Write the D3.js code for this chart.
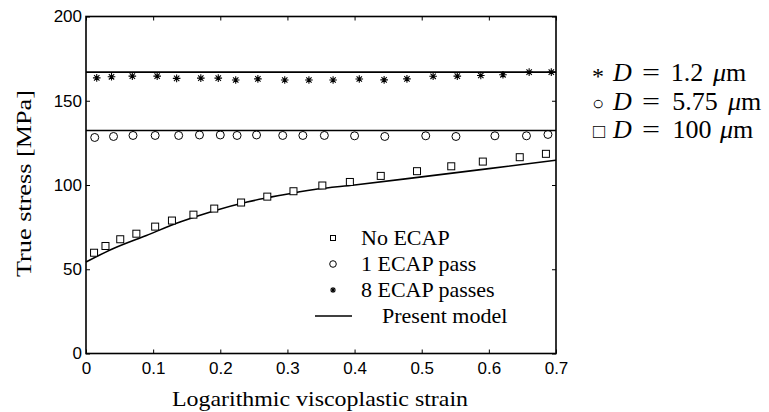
<!DOCTYPE html>
<html>
<head>
<meta charset="utf-8">
<script src="https://cdn.jsdelivr.net/npm/d3@7"></script>
<style>
  html, body { margin: 0; padding: 0; background: #fff; }
  svg { display: block; }
  .serif { font-family: "Liberation Serif", "Times New Roman", serif; }
  .sans { font-family: "Liberation Sans", Arial, sans-serif; }
</style>
</head>
<body>
<div id="chart"></div>
<script>
// 데이터 — 그림에서 읽은 값
var xTicks = [0, 0.1, 0.2, 0.3, 0.4, 0.5, 0.6, 0.7];
var yTicks = [0, 50, 100, 150, 200];

var strainNoEcap = [0.012, 0.029, 0.051, 0.075, 0.103, 0.128, 0.160, 0.191, 0.231, 0.270,
  0.309, 0.352, 0.393, 0.439, 0.493, 0.544, 0.591, 0.646, 0.685];
var stressNoEcap = [59.8, 63.8, 67.8, 71.1, 75.3, 78.9, 82.4, 86.0, 89.6, 93.1,
  96.3, 99.7, 101.8, 105.4, 108.2, 111.1, 113.9, 116.5, 118.5];

var strain1Pass = [0.013, 0.041, 0.070, 0.103, 0.138, 0.169, 0.200, 0.225, 0.254, 0.293,
  0.323, 0.355, 0.400, 0.445, 0.506, 0.551, 0.609, 0.656, 0.688];
var stress1Pass = [128.2, 128.8, 129.4, 129.4, 129.4, 129.7, 129.7, 129.4, 129.7, 129.4,
  129.4, 129.4, 129.2, 128.8, 129.2, 128.8, 129.2, 129.2, 130.0];

var strain8Pass = [0.016, 0.038, 0.069, 0.106, 0.135, 0.171, 0.197, 0.223, 0.256, 0.296,
  0.332, 0.368, 0.407, 0.444, 0.478, 0.517, 0.553, 0.588, 0.621, 0.660, 0.693];
var stress8Pass = [163.6, 164.2, 164.6, 164.6, 163.3, 163.4, 163.4, 162.3, 163.0, 162.3,
  162.3, 162.3, 162.9, 162.4, 163.0, 164.5, 164.6, 165.0, 165.4, 167.0, 167.0];

// 모델 곡선 (Present model)
var modelStrain = [0, 0.04, 0.09, 0.14, 0.19, 0.24, 0.29, 0.34, 0.40, 0.50, 0.60, 0.70];
var modelNoEcap = [54.3, 62.2, 70.1, 78.0, 84.6, 89.9, 93.9, 97.3, 100.0, 104.8, 109.7, 114.7];
var modelFlatStrain = [0, 0.7];
var model1Pass = [132.3, 132.3];
var model8Pass = [167.0, 167.0];

var legendLabels = ['No ECAP', '1 ECAP pass', '8 ECAP passes', 'Present model'];
var sideSymbols = ['*', '\u25CB', '\u25A1'];
var sideSizes = ['1.2', '5.75', '100'];

var W = 769, H = 412;
var plot = { left: 86, right: 556, top: 16.5, bottom: 353.5 };

var svg = d3.select('#chart').append('svg')
  .attr('width', W)
  .attr('height', H)
  .attr('viewBox', [0, 0, W, H]);

var x = d3.scaleLinear().domain([0, 0.7]).range([plot.left, plot.right]);
var y = d3.scaleLinear().domain([0, 200]).range([plot.bottom, plot.top]);

// 축 — 안쪽 방향 눈금, 위/오른쪽 미러
var tickLen = 4;
var axisG = svg.append('g');

axisG.append('g')
  .attr('transform', 'translate(0,' + plot.bottom + ')')
  .call(d3.axisBottom(x).tickValues(xTicks).tickSizeInner(-tickLen).tickSizeOuter(0)
    .tickPadding(8).tickFormat(function (d) { return d === 0 ? '0' : d3.format('.1f')(d); }));

axisG.append('g')
  .attr('transform', 'translate(' + plot.left + ',0)')
  .call(d3.axisLeft(y).tickValues(yTicks).tickSizeInner(-tickLen).tickSizeOuter(0).tickPadding(4));

axisG.append('g')
  .attr('transform', 'translate(0,' + plot.top + ')')
  .call(d3.axisTop(x).tickValues(xTicks).tickSizeInner(-tickLen).tickSizeOuter(0).tickFormat(''));

axisG.append('g')
  .attr('transform', 'translate(' + plot.right + ',0)')
  .call(d3.axisRight(y).tickValues(yTicks).tickSizeInner(-tickLen).tickSizeOuter(0).tickFormat(''));

axisG.selectAll('.domain').remove();
axisG.selectAll('.tick line').attr('stroke', '#000').attr('stroke-width', 1);
axisG.selectAll('.tick text')
  .attr('class', 'sans')
  .attr('font-family', null)
  .style('font-size', '17px')
  .attr('fill', '#000');

svg.append('rect')
  .attr('x', plot.left).attr('y', plot.top)
  .attr('width', plot.right - plot.left).attr('height', plot.bottom - plot.top)
  .attr('fill', 'none').attr('stroke', '#000').attr('stroke-width', 1.6);

// 축 제목
svg.append('text')
  .attr('class', 'serif')
  .attr('x', 172)
  .attr('y', 406)
  .style('font-size', '22px')
  .attr('textLength', 296)
  .attr('lengthAdjust', 'spacingAndGlyphs')
  .text('Logarithmic viscoplastic strain');

svg.append('text')
  .attr('class', 'serif')
  .attr('transform', 'translate(31,277) rotate(-90)')
  .style('font-size', '22px')
  .attr('textLength', 187)
  .attr('lengthAdjust', 'spacingAndGlyphs')
  .text('True stress [MPa]');

// 모델 선
var line = d3.line()
  .x(function (d) { return x(d[0]); })
  .y(function (d) { return y(d[1]); })
  .curve(d3.curveMonotoneX);

function pairs(xs, ys) { return xs.map(function (v, i) { return [v, ys[i]]; }); }

var lines = svg.append('g').attr('fill', 'none').attr('stroke', '#000').attr('stroke-width', 1.6);
lines.append('path').attr('d', line(pairs(modelStrain, modelNoEcap)));
lines.append('path').attr('d', line(pairs(modelFlatStrain, model1Pass)));
lines.append('path').attr('d', line(pairs(modelFlatStrain, model8Pass)));

// 마커
function square(g, s) {
  g.append('rect').attr('x', -s / 2).attr('y', -s / 2).attr('width', s).attr('height', s)
    .attr('fill', '#fff').attr('stroke', '#000').attr('stroke-width', 1);
}
function circle(g, r) {
  g.append('circle').attr('r', r).attr('fill', 'none').attr('stroke', '#000').attr('stroke-width', 1);
}
function star(g, r) {
  var d = r * Math.SQRT1_2;
  var p = 'M' + (-r) + ',0L' + r + ',0M0,' + (-r) + 'L0,' + r +
    'M' + (-d) + ',' + (-d) + 'L' + d + ',' + d + 'M' + (-d) + ',' + d + 'L' + d + ',' + (-d);
  g.append('path').attr('d', p).attr('stroke', '#000').attr('stroke-width', 1.1).attr('fill', 'none');
}

function drawPoints(xs, ys, fn, size) {
  svg.append('g').selectAll('g')
    .data(pairs(xs, ys))
    .join('g')
      .attr('transform', function (d) { return 'translate(' + x(d[0]) + ',' + y(d[1]) + ')'; })
      .each(function () { fn(d3.select(this), size); });
}

drawPoints(strainNoEcap, stressNoEcap, square, 7);
drawPoints(strain1Pass, stress1Pass, circle, 4);
drawPoints(strain8Pass, stress8Pass, star, 3.8);

// 범례 (플롯 내부)
var leg = svg.append('g');
var legY = [238, 264, 290, 316];
var mk = [function (g) { square(g, 5); }, function (g) { circle(g, 3.3); }, function (g) { star(g, 3); }];
mk.forEach(function (fn, i) {
  fn(leg.append('g').attr('transform', 'translate(333,' + legY[i] + ')'));
});
leg.append('line').attr('x1', 315).attr('x2', 352).attr('y1', legY[3]).attr('y2', legY[3])
  .attr('stroke', '#000').attr('stroke-width', 1.6);
legendLabels.forEach(function (t, i) {
  leg.append('text')
    .attr('class', 'serif')
    .style('font-size', '22px')
    .attr('x', i === 3 ? 382 : 361)
    .attr('y', legY[i] + 7)
    .text(t);
});

// 오른쪽 설명 (결정립 크기) — 조각별 위치
var sideY = [72, 101, 129];
var numMid = [687, 695, 692];
var unitX = [713, 728, 720];
sideSymbols.forEach(function (sym, i) {
  var row = svg.append('g')
    .attr('class', 'serif')
    .style('font-size', '26px')
    .attr('transform', 'translate(0,' + (sideY[i] + 9) + ')');
  row.append('text').attr('x', i === 2 ? 593 : 592).attr('y', i === 0 ? 3 : 0)
    .style('font-size', i === 0 ? '24px' : '20px').text(sym);
  row.append('text').attr('x', 613).style('font-style', 'italic').text('D');
  row.append('text').attr('x', 651).attr('text-anchor', 'middle')
    .attr('textLength', 18).attr('lengthAdjust', 'spacingAndGlyphs').text('=');
  row.append('text').attr('x', numMid[i]).attr('text-anchor', 'middle').text(sideSizes[i]);
  var u = row.append('text').attr('x', unitX[i]);
  u.append('tspan').style('font-style', 'italic').text('\u03BC');
  u.append('tspan').text('m');
});
</script>
</body>
</html>
